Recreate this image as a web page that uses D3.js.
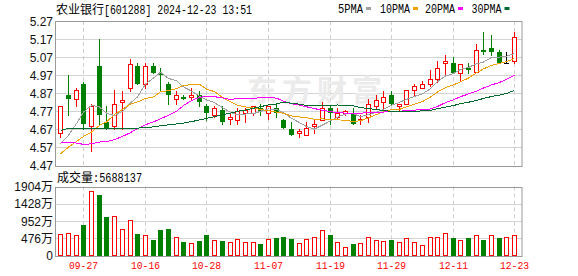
<!DOCTYPE html>
<html>
<head>
<meta charset="utf-8">
<script src="https://cdn.jsdelivr.net/npm/d3@7"></script>
<style>
  body { margin: 0; background: #fff; }
  svg { display: block; }
</style>
</head>
<body>
<div id="chart"></div>
<script>
const W = 578, H = 276;

// trading days shown
const dates = ["09-24","09-25","09-26","09-27","09-30","10-08","10-09","10-10","10-11","10-14",
  "10-15","10-16","10-17","10-18","10-21","10-22","10-23","10-24","10-25","10-28",
  "10-29","10-30","10-31","11-01","11-04","11-05","11-06","11-07","11-08","11-11",
  "11-12","11-13","11-14","11-15","11-18","11-19","11-20","11-21","11-22","11-25",
  "11-26","11-27","11-28","11-29","12-02","12-03","12-04","12-05","12-06","12-09",
  "12-10","12-11","12-12","12-13","12-16","12-17","12-18","12-19","12-20","12-23"];

const open = [4.65,4.86,4.84,4.92,4.69,5.02,4.71,4.69,4.82,4.90,
  5.02,4.92,5.02,4.98,4.92,4.84,4.85,4.85,4.86,4.80,
  4.75,4.78,4.73,4.72,4.76,4.76,4.79,4.76,4.79,4.72,
  4.67,4.65,4.64,4.69,4.72,4.79,4.74,4.76,4.76,4.72,
  4.74,4.80,4.82,4.86,4.80,4.81,4.89,4.90,4.92,4.95,
  5.04,5.04,4.98,5.01,4.99,5.11,5.12,5.10,5.04,5.05];
const high = [4.80,4.97,4.90,4.93,4.81,5.17,4.80,4.89,4.88,5.06,
  5.04,5.04,5.04,5.01,4.93,4.88,4.86,4.90,4.88,4.81,
  4.80,4.80,4.76,4.79,4.79,4.80,4.81,4.80,4.81,4.73,
  4.71,4.67,4.71,4.72,4.82,4.80,4.79,4.78,4.79,4.75,
  4.84,4.86,4.88,4.88,4.81,4.89,4.92,4.94,5.00,5.05,
  5.08,5.07,5.03,5.04,5.14,5.21,5.19,5.11,5.10,5.21];
const low = [4.63,4.75,4.80,4.67,4.55,4.70,4.67,4.67,4.67,4.88,
  4.92,4.90,4.98,4.89,4.81,4.81,4.84,4.83,4.80,4.72,
  4.74,4.70,4.70,4.70,4.71,4.75,4.75,4.73,4.74,4.68,
  4.64,4.63,4.64,4.65,4.72,4.70,4.73,4.75,4.70,4.70,
  4.71,4.79,4.79,4.81,4.77,4.81,4.86,4.90,4.91,4.93,
  4.97,4.98,4.94,4.98,4.99,5.09,5.08,5.04,5.04,5.04];
const close = [4.80,4.84,4.89,4.70,4.80,4.75,4.67,4.81,4.83,5.03,
  4.92,5.02,4.98,4.97,4.86,4.86,4.84,4.86,4.82,4.76,
  4.79,4.71,4.74,4.77,4.78,4.80,4.77,4.80,4.76,4.68,
  4.64,4.66,4.68,4.70,4.79,4.76,4.76,4.77,4.70,4.73,
  4.81,4.83,4.85,4.81,4.81,4.89,4.91,4.92,4.95,5.01,
  5.05,4.98,5.03,5.00,5.11,5.10,5.10,5.04,5.04,5.18];

// volume in 万 shares, and whether the bar is drawn as an up (red) bar
const volume = [585,613,566,842,1780,1670,1071,1090,731,980,
  593,566,428,704,731,511,373,345,400,566,
  428,400,364,447,364,364,317,447,483,511,
  455,336,447,511,695,566,364,226,309,336,
  511,428,395,428,364,474,364,281,502,502,
  613,474,419,483,557,428,557,474,502,569];
const volUp = [1,1,1,0,1,0,0,1,1,1, 0,1,0,0,0,1,0,1,0,0,
  1,0,1,1,1,1,0,1,0,0, 0,1,1,1,1,0,1,1,0,1,
  1,1,1,0,1,1,1,1,1,1, 1,0,1,0,1,0,1,0,1,1];

const ma5 = [4.590,4.637,4.702,4.766,4.803,4.794,4.760,4.746,4.770,4.816,
  4.850,4.921,4.954,4.986,4.952,4.939,4.905,4.882,4.854,4.833,
  4.818,4.790,4.764,4.751,4.755,4.757,4.770,4.783,4.781,4.762,
  4.731,4.708,4.685,4.672,4.694,4.717,4.738,4.755,4.756,4.741,
  4.751,4.765,4.781,4.803,4.820,4.836,4.853,4.867,4.895,4.934,
  4.966,4.979,5.002,5.013,5.033,5.043,5.068,5.070,5.076,5.090];
const ma10 = [4.535,4.572,4.603,4.631,4.655,4.692,4.711,4.752,4.781,4.810,
  4.822,4.841,4.850,4.878,4.884,4.895,4.913,4.918,4.920,4.893,
  4.879,4.847,4.823,4.803,4.794,4.788,4.780,4.773,4.766,4.759,
  4.744,4.739,4.734,4.726,4.728,4.724,4.723,4.720,4.714,4.718,
  4.734,4.752,4.768,4.779,4.781,4.794,4.809,4.824,4.849,4.877,
  4.901,4.916,4.934,4.954,4.983,5.005,5.024,5.036,5.045,5.062];
const ma20 = [4.600,4.600,4.594,4.587,4.590,4.600,4.603,4.613,4.631,4.652,
  4.674,4.696,4.711,4.729,4.748,4.770,4.802,4.829,4.848,4.851,
  4.851,4.844,4.836,4.840,4.839,4.841,4.846,4.846,4.843,4.826,
  4.812,4.805,4.795,4.785,4.776,4.768,4.763,4.760,4.758,4.760,
  4.762,4.764,4.766,4.768,4.770,4.774,4.777,4.779,4.783,4.797,
  4.818,4.834,4.851,4.866,4.882,4.899,4.916,4.930,4.947,4.969];
const ma30 = [4.665,4.675,4.677,4.677,4.677,4.677,4.677,4.677,4.677,4.677,
  4.677,4.680,4.684,4.690,4.695,4.700,4.705,4.713,4.722,4.731,
  4.740,4.752,4.760,4.770,4.777,4.787,4.796,4.805,4.811,4.820,
  4.815,4.809,4.802,4.802,4.802,4.802,4.805,4.804,4.800,4.790,
  4.786,4.779,4.775,4.769,4.768,4.769,4.771,4.772,4.776,4.784,
  4.793,4.802,4.812,4.820,4.831,4.841,4.852,4.860,4.869,4.885];

const priceTicks = [4.47,4.57,4.67,4.77,4.87,4.97,5.07,5.17,5.27];
const volTicks = [0,476,952,1428,1904];
const dateTicks = ["09-27","10-16","10-28","11-07","11-19","11-29","12-11","12-23"];
const maNames = ["5PMA","10PMA","20PMA","30PMA"];
const maColors = ["#a0a0a0","#f0a000","#ff00ff","#006a2e"];
const lastVolume = 5688137;

const RED = "#ff0000", GREEN = "#008000";
const L = 56, R = 522;
const PT = 21, PB = 165.5, VT = 186.5, VB = 255.5;

const svg = d3.select("#chart").append("svg").attr("width", W).attr("height", H);

const x = d3.scaleBand().domain(dates).range([56.5, 518]);
const cx = d => Math.round(x(d) + x.bandwidth() / 2);
const y = d3.scaleLinear().domain([4.47, 5.27]).range([PB, PT]);
const yv = d3.scaleLinear().domain([0, 1904]).range([VB, VT]);
const py = v => Math.round(v) + 0.5;

// gridlines
const grid = svg.append("g");
grid.selectAll("line.hp").data(priceTicks.slice(1, -1)).enter().append("line")
  .attr("x1", L).attr("x2", R).attr("y1", d => py(y(d))).attr("y2", d => py(y(d)))
  .attr("stroke", "#d4d4d4");
grid.selectAll("line.hv").data(volTicks.slice(1, -1)).enter().append("line")
  .attr("x1", L).attr("x2", R).attr("y1", d => py(yv(d))).attr("y2", d => py(yv(d)))
  .attr("stroke", "#d4d4d4");
[[PT, PB], [VT, VB]].forEach(([t, b]) => {
  grid.selectAll(null).data(dateTicks).enter().append("line")
    .attr("x1", d => cx(d) + 0.5).attr("x2", d => cx(d) + 0.5)
    .attr("y1", t).attr("y2", b)
    .attr("stroke", "#cfcfcf").attr("stroke-dasharray", "4,3");
});

// watermark
svg.append("text").attr("x", 247).attr("y", 101)
  .attr("font-family", "Noto Sans CJK SC").attr("font-size", 30).attr("font-weight", "bold")
  .attr("fill", "#ebebeb").attr("textLength", 135).text("东方财富");

// panel borders
[[PT, PB], [VT, VB]].forEach(([t, b]) => {
  svg.append("rect").attr("x", L - 0.5).attr("y", Math.round(t) + 0.5)
    .attr("width", R - L + 0.5).attr("height", Math.round(b) - Math.round(t))
    .attr("fill", "none").attr("stroke", "#999");
});

// candles
const idx = d3.range(dates.length);
const colorOf = i => close[i] > open[i] ? RED : close[i] < open[i] ? GREEN : "#000";
const cg = svg.append("g").attr("shape-rendering", "crispEdges");
cg.selectAll("line.wick").data(idx).enter().append("line")
  .attr("x1", i => cx(dates[i]) + 0.5).attr("x2", i => cx(dates[i]) + 0.5)
  .attr("y1", i => Math.round(y(high[i]))).attr("y2", i => Math.round(y(low[i])) + 1)
  .attr("stroke", colorOf);
cg.selectAll("rect.body").data(idx).enter().append("rect")
  .each(function (i) {
    const c = cx(dates[i]);
    const top = Math.round(y(Math.max(open[i], close[i])));
    const bot = Math.round(y(Math.min(open[i], close[i])));
    const s = d3.select(this);
    if (close[i] > open[i]) {
      s.attr("x", c - 1.5).attr("y", top + 0.5).attr("width", 4).attr("height", Math.max(bot - top, 1))
        .attr("fill", "#fff").attr("stroke", RED);
    } else {
      s.attr("x", c - 2).attr("y", top).attr("width", 5).attr("height", Math.max(bot - top, 1))
        .attr("fill", colorOf(i));
    }
  });

// moving averages
const mas = [ma5, ma10, ma20, ma30];
mas.forEach((m, k) => {
  svg.append("path")
    .attr("d", d3.line().x((v, i) => cx(dates[i]) + 0.5).y(v => y(v))(m))
    .attr("fill", "none").attr("stroke", maColors[k]).attr("stroke-width", 1)
    .attr("shape-rendering", "crispEdges");
});

// volume bars
const vg = svg.append("g").attr("shape-rendering", "crispEdges");
vg.selectAll("rect").data(idx).enter().append("rect")
  .each(function (i) {
    const c = cx(dates[i]);
    const top = Math.round(yv(volume[i]));
    const s = d3.select(this);
    if (volUp[i]) {
      s.attr("x", c - 1.5).attr("y", top + 0.5).attr("width", 4).attr("height", Math.round(VB) - top - 1)
        .attr("fill", "#fff").attr("stroke", RED);
    } else {
      s.attr("x", c - 2).attr("y", top).attr("width", 5).attr("height", Math.round(VB) - top)
        .attr("fill", GREEN);
    }
  });

// axis labels
const axisFont = "Liberation Sans, Noto Sans CJK SC";
svg.selectAll("text.py").data(priceTicks).enter().append("text")
  .attr("x", 53).attr("y", d => y(d) + 4.5).attr("text-anchor", "end")
  .attr("font-family", axisFont).attr("font-size", 12).attr("fill", "#111")
  .text(d => d.toFixed(2));
svg.selectAll("text.vy").data(volTicks).enter().append("text")
  .attr("x", 53).attr("y", d => yv(d) + 4.5).attr("text-anchor", "end")
  .attr("font-family", axisFont).attr("font-size", 12).attr("fill", "#111")
  .text(d => d === 0 ? "0" : d + "万");

// date labels
svg.selectAll("text.dt").data(dateTicks).enter().append("text")
  .attr("x", d => cx(d) + 0.5 - 14.5).attr("y", 269)
  .attr("font-family", "Liberation Mono").attr("font-size", 11).attr("fill", RED)
  .attr("textLength", 29).attr("lengthAdjust", "spacingAndGlyphs").text(d => d);

// title
svg.append("text").attr("x", 56).attr("y", 14)
  .attr("font-family", "Noto Sans CJK SC").attr("font-size", 12).attr("fill", "#000").text("农业银行");
svg.append("text").attr("x", 104).attr("y", 14)
  .attr("font-family", "Liberation Mono").attr("font-size", 12).attr("fill", "#000")
  .attr("textLength", 148).attr("lengthAdjust", "spacingAndGlyphs")
  .text("[601288] 2024-12-23 13:51");

// legend
const legX = [338, 380, 425, 471.5];
const legW = [25, 30, 30, 30];
maNames.forEach((n, k) => {
  svg.append("text").attr("x", legX[k]).attr("y", 13)
    .attr("font-family", "Liberation Mono").attr("font-size", 12).attr("fill", "#000")
    .attr("textLength", legW[k]).attr("lengthAdjust", "spacingAndGlyphs").text(n);
  svg.append("rect").attr("x", legX[k] + legW[k] + 3).attr("y", 7).attr("width", 5).attr("height", 3)
    .attr("fill", maColors[k]);
});

// volume caption
svg.append("text").attr("x", 57).attr("y", 182)
  .attr("font-family", "Noto Sans CJK SC").attr("font-size", 12).attr("fill", "#000").text("成交量");
svg.append("text").attr("x", 93).attr("y", 182)
  .attr("font-family", "Liberation Mono").attr("font-size", 12).attr("fill", "#000")
  .attr("textLength", 49).attr("lengthAdjust", "spacingAndGlyphs").text(":" + lastVolume);
</script>
</body>
</html>
